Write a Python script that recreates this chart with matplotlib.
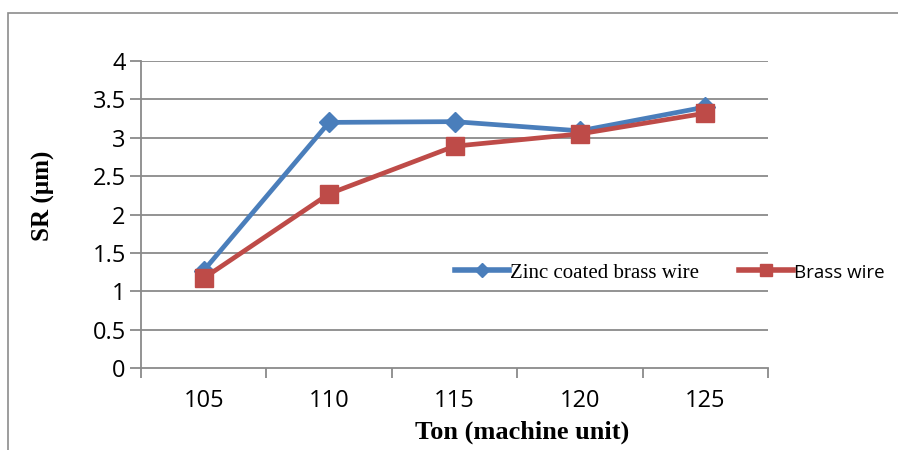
import matplotlib
matplotlib.use("Agg")
import matplotlib.pyplot as plt
from matplotlib.patches import Rectangle
from matplotlib.ticker import FixedLocator, NullFormatter

categories = ["105", "110", "115", "120", "125"]
zinc = [1.27, 3.20, 3.21, 3.09, 3.40]
brass = [1.17, 2.27, 2.89, 3.05, 3.32]
yticks = [0, 0.5, 1, 1.5, 2, 2.5, 3, 3.5, 4]
ytick_labels = ["0", "0.5", "1", "1.5", "2", "2.5", "3", "3.5", "4"]

W, H = 898, 450
fig = plt.figure(figsize=(W / 100, H / 100), dpi=100)
fig.patch.set_facecolor("white")

# outer frame
fig.patches.append(Rectangle((8 / W, -0.1), 1.2, (H - 13) / H + 0.1, transform=fig.transFigure,
                             fill=False, edgecolor="#8c8c8c", linewidth=1.2))

ax = fig.add_axes([141 / W, 1 - 368 / H, (768 - 141) / W, (368 - 61) / H])
x = list(range(len(categories)))
grid_c = "#8a8a8a"
for yv in yticks[1:]:
    ax.axhline(yv, color=grid_c, linewidth=1.3, zorder=1)

ax.plot(x, zinc, color="#4a7ebb", linewidth=3.4, marker="D", markersize=10,
        label="Zinc coated brass wire", zorder=3)
ax.plot(x, brass, color="#be4b48", linewidth=3.4, marker="s", markersize=13,
        label="Brass wire", zorder=4)

ax.set_xlim(-0.5, len(categories) - 0.5)
ax.set_ylim(0, 4)
ax.set_yticks(yticks)
ax.set_yticklabels(ytick_labels)
ax.set_xticks(x)
ax.set_xticklabels(categories)
ax.xaxis.set_minor_locator(FixedLocator([i - 0.5 for i in range(len(categories) + 1)]))
ax.xaxis.set_minor_formatter(NullFormatter())
ax.tick_params(axis="x", which="major", length=0, pad=15, labelsize=17)
ax.tick_params(axis="x", which="minor", length=7, width=1.3, color=grid_c)
ax.tick_params(axis="y", length=8, width=1.3, color=grid_c, pad=3, labelsize=17)
for lab in ax.get_xticklabels() + ax.get_yticklabels():
    lab.set_family(["Open Sans", "DejaVu Sans"])
for s in ["top", "right"]:
    ax.spines[s].set_visible(False)
for s in ["left", "bottom"]:
    ax.spines[s].set_color(grid_c)
    ax.spines[s].set_linewidth(1.3)

fig.text(43 / W, 1 - 196 / H, "SR (µm)", rotation=90, ha="center", va="center",
         fontsize=18, fontweight="bold", family="Liberation Serif")
fig.text(522 / W, 1 - 432 / H, "Ton (machine unit)", ha="center", va="center",
         fontsize=19, fontweight="bold", family="Liberation Serif")

leg = ax.legend(loc="center left", bbox_to_anchor=(449 / W, 1 - 273 / H),
                bbox_transform=fig.transFigure, ncol=2, frameon=True, fancybox=False,
                edgecolor="none", facecolor="white", framealpha=1,
                handlelength=2.6, handletextpad=0.05, columnspacing=1.9,
                borderpad=0.3, borderaxespad=0, fontsize=15)
leg.set_zorder(5)
texts = leg.get_texts()
texts[0].set_family("Liberation Serif")
texts[0].set_fontsize(15)
texts[1].set_family(["Open Sans", "DejaVu Sans"])
texts[1].set_fontsize(13.5)
hs = leg.legend_handles
hs[0].set_markersize(7)
hs[1].set_markersize(9)
for h in hs:
    h.set_linewidth(4)

fig.savefig("out.png", dpi=100, facecolor="white")
